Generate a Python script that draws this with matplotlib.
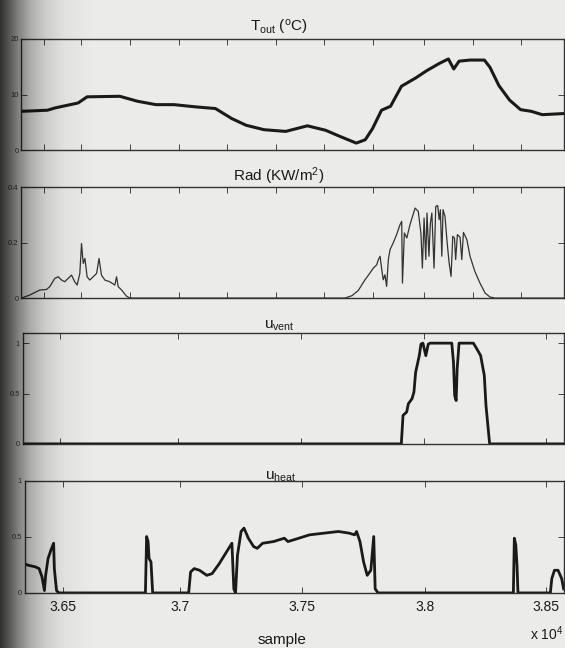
import numpy as np
import matplotlib.pyplot as plt

plt.rcParams['font.family'] = ['Liberation Sans', 'DejaVu Sans']
plt.rcParams['mathtext.default'] = 'regular'

# outdoor temperature (sample, degC)
t_x = [36344, 36451, 36481, 36577, 36614, 36748, 36822, 36897, 36971, 37060,
       37142, 37209, 37268, 37342, 37431, 37520, 37595, 37654, 37721, 37758,
       37788, 37825, 37862, 37907, 37966, 38011, 38063, 38100, 38122, 38144,
       38189, 38248, 38271, 38308, 38352, 38397, 38441, 38486, 38575]
t_out = [7.0, 7.2, 7.6, 8.5, 9.6, 9.7, 8.8, 8.2, 8.2, 7.8,
         7.5, 5.7, 4.5, 3.7, 3.4, 4.4, 3.6, 2.5, 1.3, 1.9,
         3.9, 7.2, 7.9, 11.5, 13.0, 14.3, 15.6, 16.4, 14.6, 16.0,
         16.2, 16.2, 14.9, 11.6, 9.0, 7.3, 7.0, 6.4, 6.6]

# solar radiation (sample, kW/m2)
rad_x = [36344, 36378, 36419, 36447, 36460, 36481, 36495, 36509, 36522, 36536,
         36550, 36563, 36573, 36584, 36591, 36598, 36605, 36614, 36625, 36639,
         36653, 36663, 36673, 36687, 36707, 36728, 36735, 36742, 36756, 36776,
         36790, 37675, 37704, 37729, 37757, 37777, 37791, 37805, 37812, 37819,
         37826, 37832, 37839, 37846, 37853, 37860, 37873, 37887, 37901, 37908,
         37911, 37919, 37929, 37942, 37963, 37976, 37987, 37993, 38000, 38007,
         38012, 38020, 38026, 38032, 38041, 38048, 38056, 38062, 38067, 38073,
         38078, 38086, 38095, 38103, 38111, 38118, 38125, 38130, 38137, 38148,
         38155, 38162, 38176, 38189, 38209, 38230, 38251, 38271, 38292, 38575]
rad = [0.0, 0.011, 0.029, 0.031, 0.041, 0.071, 0.077, 0.065, 0.059, 0.071,
       0.083, 0.059, 0.047, 0.089, 0.197, 0.125, 0.143, 0.077, 0.065, 0.077,
       0.089, 0.143, 0.083, 0.065, 0.059, 0.047, 0.077, 0.041, 0.029, 0.007,
       0.0, 0.0, 0.009, 0.027, 0.066, 0.090, 0.108, 0.120, 0.139, 0.151,
       0.102, 0.066, 0.084, 0.042, 0.139, 0.175, 0.199, 0.229, 0.265, 0.277,
       0.054, 0.235, 0.217, 0.265, 0.325, 0.313, 0.235, 0.108, 0.289, 0.139,
       0.307, 0.151, 0.271, 0.307, 0.108, 0.331, 0.334, 0.283, 0.319, 0.151,
       0.319, 0.295, 0.199, 0.127, 0.078, 0.223, 0.217, 0.139, 0.229, 0.220,
       0.139, 0.237, 0.211, 0.151, 0.096, 0.054, 0.018, 0.004, 0.0, 0.0]

# ventilation control
vent_x = [36344, 37905, 37912, 37927, 37934, 37949, 37957, 37964, 37979, 37986,
          37994, 38006, 38016, 38024, 38113, 38120, 38125, 38131, 38135, 38143,
          38202, 38217, 38232, 38247, 38254, 38269, 38575]
u_vent = [0, 0, 0.283, 0.316, 0.398, 0.448, 0.514, 0.711, 0.876, 0.991,
          1.0, 0.876, 0.99, 1.0, 1.0, 0.81, 0.48, 0.43, 0.74, 1.0,
          1.0, 0.94, 0.876, 0.68, 0.38, 0, 0]

# heating control
heat_x = [36340, 36358, 36388, 36403, 36415, 36425, 36430, 36440, 36452, 36463,
          36466, 36475, 36485, 36843, 36848, 36854, 36858, 36866, 36873, 37022,
          37030, 37045, 37067, 37097, 37119, 37149, 37179, 37201, 37209, 37216,
          37224, 37239, 37251, 37269, 37291, 37306, 37328, 37373, 37418, 37433,
          37478, 37522, 37582, 37642, 37687, 37709, 37717, 37731, 37746, 37761,
          37776, 37788, 37794, 37806, 38366, 38370, 38376, 38381, 38385, 38519,
          38525, 38536, 38551, 38566, 38574]
u_heat = [0.262, 0.247, 0.232, 0.217, 0.142, 0.021, 0.157, 0.307, 0.383, 0.443,
          0.217, 0.021, 0, 0, 0.503, 0.458, 0.307, 0.277, 0, 0,
          0.187, 0.217, 0.202, 0.157, 0.172, 0.262, 0.367, 0.443, 0.036, 0,
          0.337, 0.548, 0.578, 0.488, 0.413, 0.398, 0.443, 0.458, 0.488, 0.458,
          0.488, 0.518, 0.533, 0.548, 0.533, 0.518, 0.548, 0.458, 0.277, 0.157,
          0.202, 0.503, 0.036, 0, 0, 0.488, 0.428, 0.247, 0, 0,
          0.127, 0.202, 0.202, 0.127, 0.036]

x_lim = (36344, 38575)
fine_ticks = [36436, 36590, 36790, 36990, 37190, 37390, 37590, 37790, 38000, 38200, 38400]
main_ticks = [36500, 36985, 37490, 38000, 38500]
main_labels = ['3.65', '3.7', '3.75', '3.8', '3.85']

page = '#ebebe9'
ink = '#1a1a1a'

fig = plt.figure(figsize=(5.65, 6.48), dpi=100, facecolor=page)

boxes = [[0.038, 0.768, 0.96, 0.172],
         [0.038, 0.540, 0.96, 0.171],
         [0.040, 0.315, 0.958, 0.171],
         [0.044, 0.085, 0.954, 0.173]]
titles = ['T$_{out}$ ($^o$C)', 'Rad (KW/m$^2$)', 'u$_{vent}$', 'u$_{heat}$']
title_pads = [5, 2, 1, 1]
ylims = [(0, 20), (0, 0.4), (0, 1.1), (0, 1)]
yticks = [[0, 10, 20], [0, 0.2, 0.4], [0, 0.5, 1], [0, 0.5, 1]]
yticklabels = [['0', '10', '20'], ['0', '0.2', '0.4'], ['0', '0.5', '1'], ['0', '0.5', '1']]

axes = []
for i, b in enumerate(boxes):
    ax = fig.add_axes(b)
    ax.set_facecolor(page)
    ax.set_xlim(*x_lim)
    ax.set_ylim(*ylims[i])
    ax.set_yticks(yticks[i])
    ax.set_yticklabels(yticklabels[i])
    ax.set_title(titles[i], fontsize=11, color=ink, pad=title_pads[i], x=0.475)
    ax.tick_params(direction='in', length=4, width=0.7, top=True, right=True,
                   colors='#444444', labelsize=5.5, pad=2)
    for s in ax.spines.values():
        s.set_linewidth(1.0)
        s.set_color('#333333')
    axes.append(ax)

axes[0].plot(t_x, t_out, color=ink, lw=2.2)
axes[1].plot(rad_x, rad, color='#333333', lw=0.9)
axes[2].plot(vent_x, u_vent, color=ink, lw=2.0)
axes[3].plot(heat_x, u_heat, color=ink, lw=2.0)

for ax in axes[:2]:
    ax.set_xticks(fine_ticks)
    ax.set_xticklabels([])
for ax in axes[2:]:
    ax.set_xticks(main_ticks)
axes[2].set_xticklabels([])
axes[3].set_xticklabels(main_labels)
axes[3].tick_params(axis='x', labelsize=10, colors='#444444', labelcolor=ink, pad=5)
fig.text(0.5, 0.012, 'sample', fontsize=11, color=ink, ha='center', va='center')
fig.text(0.938, 0.022, 'x 10$^4$', fontsize=10, color=ink, ha='left', va='center')

# binding shadow on the left edge of the scan
shade = fig.add_axes([0, 0, 1, 1], zorder=10)
shade.axis('off')
xs = np.linspace(0, 565, 565)
alpha = np.interp(xs, [0, 8, 18, 30, 45, 65, 95], [0.8, 0.65, 0.45, 0.27, 0.13, 0.04, 0])
grad = np.zeros((2, 565, 4))
grad[..., 3] = alpha
shade.imshow(grad, aspect='auto', extent=[0, 1, 0, 1])

fig.savefig('out.png', dpi=100, facecolor=page)
